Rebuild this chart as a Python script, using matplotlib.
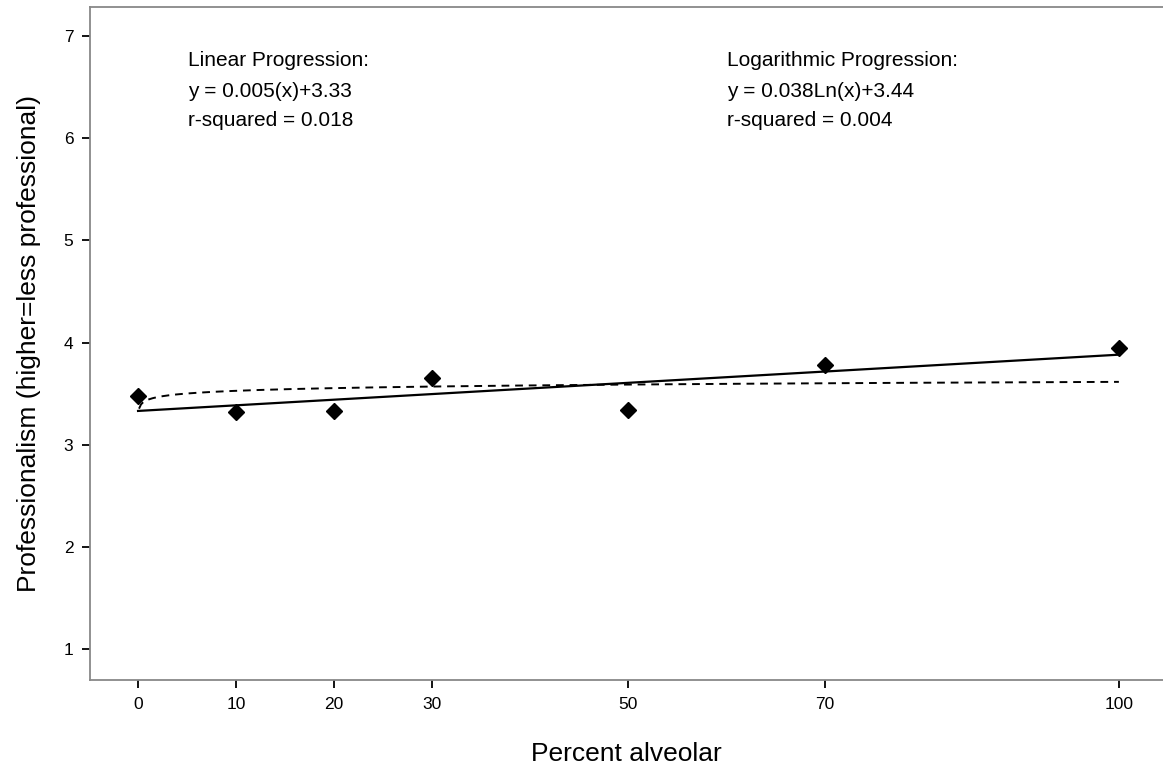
import numpy as np
import matplotlib.pyplot as plt

# ─── Data ─────────────────────────────────────────────────────
pct_alveolar = [0, 10, 20, 30, 50, 70, 100]
professionalism = [3.48, 3.32, 3.33, 3.655, 3.34, 3.78, 3.95]

# log fit as printed on the chart
log_a, log_b = 0.038, 3.44

x_ticks = [0, 10, 20, 30, 50, 70, 100]
y_ticks = [1, 2, 3, 4, 5, 6, 7]

plt.rcParams["font.family"] = ["Liberation Sans", "DejaVu Sans"]

fig = plt.figure(figsize=(11.63, 7.67), dpi=100)
ax = fig.add_axes([90 / 1163, 1 - 680 / 767, 1 - 90 / 1163, (680 - 7) / 767])

# points
ax.plot(pct_alveolar, professionalism, linestyle="none", marker="D",
        markersize=8, color="black", zorder=3)

# linear fit
slope, icpt = np.polyfit(pct_alveolar, professionalism, 1)
xl = np.array([0, 100])
ax.plot(xl, slope * xl + icpt, color="black", lw=1.6)

# logarithmic fit
xg = np.linspace(0.1, 100, 500)
ax.plot(xg, log_a * np.log(xg) + log_b, color="black", lw=1.4,
        linestyle=(0, (4, 3)))

# annotations
fs = 15
ax.text(5.1, 6.76, "Linear Progression:", fontsize=fs, va="center")
ax.text(5.1, 6.46, "y = 0.005(x)+3.33", fontsize=fs, va="center")
ax.text(5.1, 6.17, "r-squared = 0.018", fontsize=fs, va="center")
ax.text(60.0, 6.76, "Logarithmic Progression:", fontsize=fs, va="center")
ax.text(60.0, 6.46, "y = 0.038Ln(x)+3.44", fontsize=fs, va="center")
ax.text(60.0, 6.17, "r-squared = 0.004", fontsize=fs, va="center")

ax.set_xlim(-4.9, 104.5)
ax.set_ylim(0.697, 7.284)
ax.set_xticks(x_ticks)
ax.set_yticks(y_ticks)
ax.tick_params(labelsize=12.5, length=6, width=1.3, color="black", pad=6)

for side in ("left", "bottom", "top"):
    ax.spines[side].set_color("#888888")
    ax.spines[side].set_linewidth(1.3)
ax.spines["right"].set_visible(False)

ax.set_xlabel("Percent alveolar", fontsize=19, labelpad=22)
ax.set_ylabel("Professionalism (higher=less professional)", fontsize=19, labelpad=16)

fig.savefig("out.png", dpi=100)
